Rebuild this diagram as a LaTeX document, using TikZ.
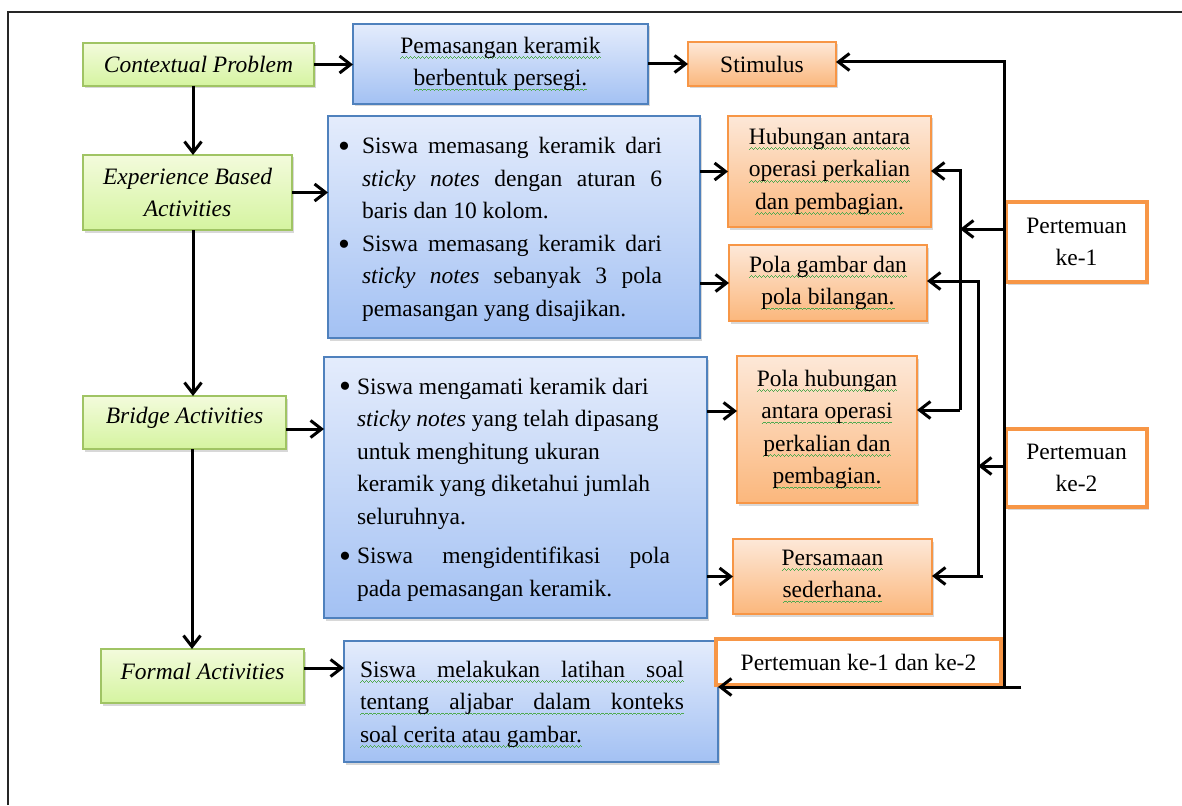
\documentclass[tikz,border=0pt]{standalone}
\usepackage{fontspec}
\setmainfont{Liberation Serif}
\usetikzlibrary{arrows.meta,shadows}
\definecolor{gborder}{RGB}{160,196,100}
\definecolor{gtop}{RGB}{243,251,220}
\definecolor{gbot}{RGB}{213,244,160}
\definecolor{bborder}{RGB}{79,129,189}
\definecolor{btop}{RGB}{228,236,252}
\definecolor{bbot}{RGB}{163,193,243}
\definecolor{oborder}{RGB}{247,150,70}
\definecolor{otop}{RGB}{253,232,216}
\definecolor{obot}{RGB}{251,183,124}
\definecolor{sqgreen}{RGB}{80,170,80}
\newcommand\fz{\fontsize{23.5}{32.5}\selectfont}
\newsavebox\gwbox
\newcommand\wavecell{\hbox{\rule[0pt]{1pt}{0.9pt}\rule[0.8pt]{1pt}{0.9pt}\rule[1.6pt]{1pt}{0.9pt}\rule[0.8pt]{1pt}{0.9pt}}}
\newcommand\gw[1]{\sbox\gwbox{#1}\leavevmode\rlap{\textcolor{sqgreen}{\lower5.5pt\hbox to \wd\gwbox{\xleaders\wavecell\hfill}}}\usebox\gwbox}
\newcommand\bigbul{\raisebox{-3.5pt}{\fontsize{34}{34}\selectfont\textbullet}}
\newcommand\bit[2][24pt]{\par\noindent\hangindent=#1\hangafter=1\makebox[#1][l]{\bigbul}#2\par}
\tikzset{
  base/.style={inner sep=0pt, outer sep=0pt, anchor=north west, align=center, font=\fz},
  shad/.style={drop shadow={shadow xshift=2pt, shadow yshift=-2.5pt, opacity=0.3}},
  gbox/.style={base, shad, draw=gborder, line width=1.5pt, top color=gtop, bottom color=gbot, font=\fz\itshape},
  bbox/.style={base, shad, draw=bborder, line width=1.5pt, top color=btop, bottom color=bbot},
  obox/.style={base, shad, draw=oborder, line width=1.5pt, top color=otop, bottom color=obot},
  pbox/.style={base, shad, draw=oborder, line width=3.2pt, fill=white},
  btext/.style={inner sep=0pt, outer sep=0pt, anchor=base west, font=\fz},
  arr/.style={line width=3pt, -{Straight Barb[length=11pt,width=17pt]}},
}
\begin{document}
\begin{tikzpicture}[x=1pt,y=-1pt]
\useasboundingbox (0,0) rectangle (1182,805);
\fill[white] (0,0) rectangle (1182,805);
\draw[line width=1.3pt, black!85] (8,805) -- (8,12) -- (1182,12);

% green boxes
\node[gbox, minimum width=231pt, minimum height=43pt] (ctx) at (83,43) {Contextual Problem};
\node[gbox, minimum width=209pt, minimum height=75pt] (exp) at (83,155) {Experience Based\\Activities};
\node[gbox, minimum width=203pt, minimum height=53pt] (bri) at (83,396) {\raisebox{5pt}[\height][\depth]{Bridge Activities}};
\node[gbox, minimum width=203pt, minimum height=54pt] (for) at (101,649) {\raisebox{5pt}[\height][\depth]{Formal Activities}};

% blue boxes
\node[bbox, minimum width=295pt, minimum height=80pt] (pem) at (353,24) {\gw{Pemasangan keramik}\\\gw{berbentuk persegi.}};
\node[bbox, minimum width=372pt, minimum height=222pt] (eb) at (328,116) {};
\node[btext] (ebt) at (338,154) {\parbox[t]{324pt}{%
\bit{Siswa memasang keramik dari\linebreak \textit{sticky notes} dengan aturan 6\linebreak baris dan 10 kolom.}%
\bit{Siswa memasang keramik dari\linebreak \textit{sticky notes} sebanyak 3 pola\linebreak pemasangan yang disajikan.}}};
\node[bbox, minimum width=383pt, minimum height=261pt] (bb) at (324,357) {};
\node[btext] (bbt) at (339,394) {\parbox[t]{331pt}{%
\bit[18pt]{Siswa mengamati keramik dari\newline \textit{sticky notes} yang telah dipasang\newline untuk menghitung ukuran\newline keramik yang diketahui jumlah\newline seluruhnya.}%
\vspace{7pt}%
\bit[18pt]{Siswa mengidentifikasi pola\linebreak pada pemasangan keramik.}}};
\node[bbox, minimum width=374pt, minimum height=121pt] (fb) at (344,641) {};
\node[btext] (fbt) at (360,677) {\parbox[t]{324pt}{\noindent
\gw{\hbox to 324pt{Siswa\hfill melakukan\hfill latihan\hfill soal}}\\
\gw{\hbox to 324pt{tentang\hfill aljabar\hfill dalam\hfill konteks}}\\
\gw{soal cerita atau gambar.}}};

% orange boxes
\node[obox, minimum width=148pt, minimum height=44pt] (stim) at (688,42) {Stimulus};
\node[obox, minimum width=203pt, minimum height=111pt] (hub) at (728,116) {\gw{Hubungan antara}\\\gw{operasi perkalian}\\\gw{dan pembagian.}};
\node[obox, minimum width=198pt, minimum height=76pt] (pgb) at (729,245) {\gw{Pola gambar dan}\\\gw{pola bilangan.}};
\node[obox, minimum width=180pt, minimum height=147pt] (phub) at (737,356) {\gw{Pola hubungan}\\\gw{antara operasi}\\\gw{perkalian dan}\\\gw{pembagian.}};
\node[obox, minimum width=199pt, minimum height=75pt] (pers) at (733,539) {\gw{Persamaan}\\\gw{sederhana.}};

% pertemuan boxes
\node[pbox, minimum width=141pt, minimum height=80pt] (pt1) at (1006,202) {Pertemuan\\ke-1};
\node[pbox, minimum width=141pt, minimum height=78pt] (pt2) at (1006,429) {Pertemuan\\ke-2};
\node[pbox, minimum width=285pt, minimum height=46pt] (pt12) at (716,639) {Pertemuan ke-1 dan ke-2};

% left connectors
\coordinate (c1) at (193,0);
\coordinate (c2) at (192,0);
\coordinate (ybr) at (0,429);
\coordinate (yfo) at (0,668);
\coordinate (yph) at (0,411);
\draw[arr] (ctx.east) -- (pem.west |- ctx.east);
\draw[arr] (pem.east |- stim.west) -- (stim.west);
\draw[arr] (ctx.south -| c1) -- (exp.north -| c1);
\draw[arr] (exp.south -| c1) -- (bri.north -| c1);
\draw[arr] (bri.south -| c2) -- (for.north -| c2);
\draw[arr] (exp.east) -- (eb.west |- exp.east);
\draw[arr] (bri.east |- ybr) -- (bb.west |- ybr);
\draw[arr] (for.east |- yfo) -- (fb.west |- yfo);
\draw[arr] (eb.east |- hub.west) -- (hub.west);
\draw[arr] (eb.east |- pgb.west) -- (pgb.west);
\draw[arr] (bb.east |- yph) -- (phub.west |- yph);
\draw[arr] (bb.east |- pers.west) -- (pers.west);

% right connectors
\coordinate (jt) at (1004,62);
\coordinate (jb) at (1021,687);
\draw[arr] (jb) -| (jt) -- (stim.east |- jt);
\draw[arr] (jb) -- (fb.east |- jb);
\coordinate (v1t) at (960,171);
\coordinate (v1b) at (960,410);
\coordinate (y229) at (0,229);
\draw[arr] (v1b) -- (v1t) -- (hub.east |- v1t);
\draw[arr] (v1b) -- (phub.east |- v1b);
\draw[arr] (pt1.west |- y229) -- (v1t |- y229);
\coordinate (v2t) at (978,281);
\coordinate (v2b) at (978,576);
\coordinate (v2e) at (983,576);
\coordinate (y466) at (0,466);
\draw[arr] (v2e) -- (v2b) -- (v2t) -- (pgb.east |- v2t);
\draw[arr] (v2b) -- (pers.east |- v2b);
\draw[arr] (pt2.west |- y466) -- (v2t |- y466);
\end{tikzpicture}
\end{document}
